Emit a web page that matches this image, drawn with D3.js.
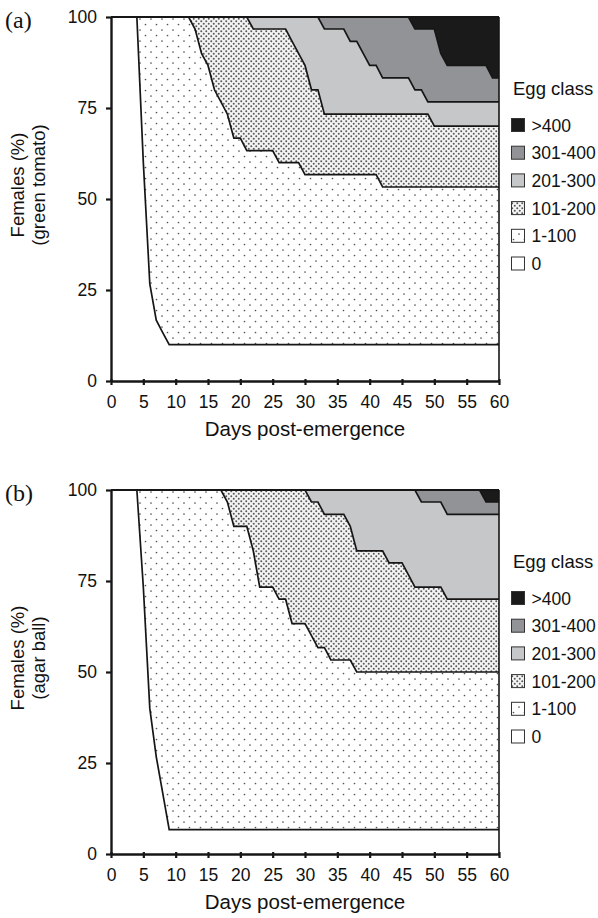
<!DOCTYPE html>
<html>
<head>
<meta charset="utf-8">
<script src="https://cdn.jsdelivr.net/npm/d3@7"></script>
<style>
  html, body { margin: 0; padding: 0; background: #fff; }
  svg { display: block; }
</style>
</head>
<body>
<div id="chart"></div>
<script>
/* ================================================
   Egg class of females over days post-emergence
   cumulative % of females per class boundary
   ================================================ */

var days = [
   0,  1,  2,  3,  4,  5,  6,  7,  8,  9,
  10, 11, 12, 13, 14, 15, 16, 17, 18, 19,
  20, 21, 22, 23, 24, 25, 26, 27, 28, 29,
  30, 31, 32, 33, 34, 35, 36, 37, 38, 39,
  40, 41, 42, 43, 44, 45, 46, 47, 48, 49,
  50, 51, 52, 53, 54, 55, 56, 57, 58, 59,
  60
];

// (a) green tomato — % of females with at most N eggs
var zeroA = [
  100, 100, 100, 100, 100, 60, 26.7, 16.7, 13.3, 10,
  10, 10, 10, 10, 10, 10, 10, 10, 10, 10,
  10, 10, 10, 10, 10, 10, 10, 10, 10, 10,
  10, 10, 10, 10, 10, 10, 10, 10, 10, 10,
  10, 10, 10, 10, 10, 10, 10, 10, 10, 10,
  10, 10, 10, 10, 10, 10, 10, 10, 10, 10,
  10
];
var upto100A = [
  100, 100, 100, 100, 100, 100, 100, 100, 100, 100,
  100, 100, 100, 96.7, 90, 86.7, 80, 76.7, 73.3, 66.7,
  66.7, 63.3, 63.3, 63.3, 63.3, 63.3, 60, 60, 60, 60,
  56.7, 56.7, 56.7, 56.7, 56.7, 56.7, 56.7, 56.7, 56.7, 56.7,
  56.7, 56.7, 53.3, 53.3, 53.3, 53.3, 53.3, 53.3, 53.3, 53.3,
  53.3, 53.3, 53.3, 53.3, 53.3, 53.3, 53.3, 53.3, 53.3, 53.3,
  53.3
];
var upto200A = [
  100, 100, 100, 100, 100, 100, 100, 100, 100, 100,
  100, 100, 100, 100, 100, 100, 100, 100, 100, 100,
  100, 100, 96.7, 96.7, 96.7, 96.7, 96.7, 96.7, 93.3, 90,
  86.7, 80, 80, 73.3, 73.3, 73.3, 73.3, 73.3, 73.3, 73.3,
  73.3, 73.3, 73.3, 73.3, 73.3, 73.3, 73.3, 73.3, 73.3, 73.3,
  70, 70, 70, 70, 70, 70, 70, 70, 70, 70,
  70
];
var upto300A = [
  100, 100, 100, 100, 100, 100, 100, 100, 100, 100,
  100, 100, 100, 100, 100, 100, 100, 100, 100, 100,
  100, 100, 100, 100, 100, 100, 100, 100, 100, 100,
  100, 100, 100, 96.7, 96.7, 96.7, 96.7, 93.3, 93.3, 90,
  86.7, 86.7, 83.3, 83.3, 83.3, 83.3, 83.3, 80, 80, 76.7,
  76.7, 76.7, 76.7, 76.7, 76.7, 76.7, 76.7, 76.7, 76.7, 76.7,
  76.7
];
var upto400A = [
  100, 100, 100, 100, 100, 100, 100, 100, 100, 100,
  100, 100, 100, 100, 100, 100, 100, 100, 100, 100,
  100, 100, 100, 100, 100, 100, 100, 100, 100, 100,
  100, 100, 100, 100, 100, 100, 100, 100, 100, 100,
  100, 100, 100, 100, 100, 100, 100, 96.7, 96.7, 96.7,
  96.7, 90, 86.7, 86.7, 86.7, 86.7, 86.7, 86.7, 86.7, 83.3,
  83.3
];

// (b) agar ball
var zeroB = [
  100, 100, 100, 100, 100, 73.3, 40, 26.7, 16.7, 6.7,
  6.7, 6.7, 6.7, 6.7, 6.7, 6.7, 6.7, 6.7, 6.7, 6.7,
  6.7, 6.7, 6.7, 6.7, 6.7, 6.7, 6.7, 6.7, 6.7, 6.7,
  6.7, 6.7, 6.7, 6.7, 6.7, 6.7, 6.7, 6.7, 6.7, 6.7,
  6.7, 6.7, 6.7, 6.7, 6.7, 6.7, 6.7, 6.7, 6.7, 6.7,
  6.7, 6.7, 6.7, 6.7, 6.7, 6.7, 6.7, 6.7, 6.7, 6.7,
  6.7
];
var upto100B = [
  100, 100, 100, 100, 100, 100, 100, 100, 100, 100,
  100, 100, 100, 100, 100, 100, 100, 100, 96.7, 90,
  90, 90, 83.3, 73.3, 73.3, 73.3, 70, 70, 63.3, 63.3,
  63.3, 60, 56.7, 56.7, 53.3, 53.3, 53.3, 53.3, 50, 50,
  50, 50, 50, 50, 50, 50, 50, 50, 50, 50,
  50, 50, 50, 50, 50, 50, 50, 50, 50, 50,
  50
];
var upto200B = [
  100, 100, 100, 100, 100, 100, 100, 100, 100, 100,
  100, 100, 100, 100, 100, 100, 100, 100, 100, 100,
  100, 100, 100, 100, 100, 100, 100, 100, 100, 100,
  100, 96.7, 96.7, 93.3, 93.3, 93.3, 93.3, 90, 83.3, 83.3,
  83.3, 83.3, 83.3, 80, 80, 80, 76.7, 73.3, 73.3, 73.3,
  73.3, 73.3, 70, 70, 70, 70, 70, 70, 70, 70,
  70
];
var upto300B = [
  100, 100, 100, 100, 100, 100, 100, 100, 100, 100,
  100, 100, 100, 100, 100, 100, 100, 100, 100, 100,
  100, 100, 100, 100, 100, 100, 100, 100, 100, 100,
  100, 100, 100, 100, 100, 100, 100, 100, 100, 100,
  100, 100, 100, 100, 100, 100, 100, 100, 96.7, 96.7,
  96.7, 96.7, 93.3, 93.3, 93.3, 93.3, 93.3, 93.3, 93.3, 93.3,
  93.3
];
var upto400B = [
  100, 100, 100, 100, 100, 100, 100, 100, 100, 100,
  100, 100, 100, 100, 100, 100, 100, 100, 100, 100,
  100, 100, 100, 100, 100, 100, 100, 100, 100, 100,
  100, 100, 100, 100, 100, 100, 100, 100, 100, 100,
  100, 100, 100, 100, 100, 100, 100, 100, 100, 100,
  100, 100, 100, 100, 100, 100, 100, 100, 96.7, 96.7,
  96.7
];

var classLabels = ['0', '1-100', '101-200', '201-300', '301-400', '>400'];
var xTicks = [0, 5, 10, 15, 20, 25, 30, 35, 40, 45, 50, 55, 60];
var yTicks = [0, 25, 50, 75, 100];

var W = 598, H = 918;
var plotL = 111, plotR = 499, plotH = 364;
var SANS = "'Liberation Sans', Arial, sans-serif";
var INK = '#161616';

var classFill = ['#ffffff', 'url(#dotsSparse)', 'url(#dotsDense)', '#c6c7c9', '#929396', '#1a1a1a'];

var panels = [
  { tag: '(a)', top: 17,  ylab: ['Females (%)', '(green tomato)'],
    series: [zeroA, upto100A, upto200A, upto300A, upto400A] },
  { tag: '(b)', top: 490, ylab: ['Females (%)', '(agar ball)'],
    series: [zeroB, upto100B, upto200B, upto300B, upto400B] }
];

var svg = d3.select('#chart').append('svg')
  .attr('width', W).attr('height', H)
  .attr('viewBox', '0 0 ' + W + ' ' + H);

// fill patterns
var defs = svg.append('defs');
var sparse = defs.append('pattern')
  .attr('id', 'dotsSparse').attr('patternUnits', 'userSpaceOnUse')
  .attr('width', 11).attr('height', 11);
sparse.append('rect').attr('width', 11).attr('height', 11).attr('fill', '#fff');
[[2.5, 2.5], [8, 8]].forEach(function(p) {
  sparse.append('circle').attr('cx', p[0]).attr('cy', p[1]).attr('r', 0.85).attr('fill', '#555');
});
var dense = defs.append('pattern')
  .attr('id', 'dotsDense').attr('patternUnits', 'userSpaceOnUse')
  .attr('width', 5).attr('height', 5);
dense.append('rect').attr('width', 5).attr('height', 5).attr('fill', '#f4f4f4');
[[1.25, 1.25], [3.75, 3.75]].forEach(function(p) {
  dense.append('circle').attr('cx', p[0]).attr('cy', p[1]).attr('r', 1).attr('fill', '#5a5a5a');
});

var x = d3.scaleLinear().domain([0, 60]).range([plotL, plotR]);

panels.forEach(function(pn) {
  var y = d3.scaleLinear().domain([0, 100]).range([pn.top + plotH, pn.top]);
  var g = svg.append('g');
  var idx = days.map(function(d, i) { return i; });

  // stacked class bands
  classLabels.forEach(function(lab, k) {
    var area = d3.area()
      .x(function(i) { return x(days[i]); })
      .y0(function(i) { return k === 0 ? y(0) : y(pn.series[k - 1][i]); })
      .y1(function(i) { return k === 5 ? y(100) : y(pn.series[k][i]); });
    g.append('path')
      .attr('d', area(idx))
      .attr('fill', classFill[k])
      .attr('stroke', 'none');
  });

  // boundary lines
  pn.series.forEach(function(s) {
    var line = d3.line()
      .x(function(i) { return x(days[i]); })
      .y(function(i) { return y(s[i]); });
    g.append('path')
      .attr('d', line(idx))
      .attr('fill', 'none')
      .attr('stroke', INK)
      .attr('stroke-width', 1.7);
  });

  // frame top + right
  g.append('line')
    .attr('x1', x(0)).attr('x2', x(60))
    .attr('y1', y(100)).attr('y2', y(100))
    .attr('stroke', INK).attr('stroke-width', 2.2);
  g.append('line')
    .attr('x1', x(60)).attr('x2', x(60))
    .attr('y1', y(100)).attr('y2', y(0))
    .attr('stroke', INK).attr('stroke-width', 1.6);

  // axes
  var xAxis = g.append('g')
    .attr('transform', 'translate(0,' + y(0) + ')')
    .call(d3.axisBottom(x).tickValues(xTicks).tickSize(4).tickSizeOuter(0).tickPadding(11));
  xAxis.selectAll('.tick line').attr('y1', -2);
  var yAxis = g.append('g')
    .attr('transform', 'translate(' + x(0) + ',0)')
    .call(d3.axisLeft(y).tickValues(yTicks).tickSize(5).tickSizeOuter(0).tickPadding(9));
  [xAxis, yAxis].forEach(function(ax) {
    ax.select('.domain').attr('stroke', INK).attr('stroke-width', 2.4);
    ax.selectAll('.tick line').attr('stroke', INK).attr('stroke-width', 2.2);
    ax.selectAll('.tick text')
      .attr('fill', '#111')
      .attr('font-family', SANS)
      .attr('font-size', 17.5);
  });

  // axis titles
  g.append('text')
    .attr('x', (plotL + plotR) / 2).attr('y', pn.top + 419)
    .attr('text-anchor', 'middle')
    .attr('font-family', SANS).attr('font-size', 20.5).attr('fill', '#111')
    .text('Days post-emergence');
  pn.ylab.forEach(function(t, j) {
    g.append('text')
      .attr('transform', 'translate(' + (24 + j * 21) + ',' + (pn.top + 168) + ') rotate(-90)')
      .attr('text-anchor', 'middle')
      .attr('font-family', SANS).attr('font-size', 18.5).attr('fill', '#111')
      .text(t);
  });

  // panel tag
  g.append('text')
    .attr('x', 5).attr('y', pn.top + 11)
    .attr('font-family', "'Liberation Serif', 'Times New Roman', serif")
    .attr('font-size', 24).attr('fill', '#111')
    .text(pn.tag);

  // legend (kept narrow enough to stay inside the 598px width)
  var lg = g.append('g').attr('transform', 'translate(511,' + pn.top + ')');
  lg.append('text')
    .attr('x', 2).attr('y', 78)
    .attr('font-family', SANS).attr('font-size', 18.5).attr('fill', '#111')
    .text('Egg class');
  classLabels.slice().reverse().forEach(function(lab, r) {
    var k = classLabels.length - 1 - r;
    var cy = 108 + r * 27.7;
    lg.append('rect')
      .attr('x', 0.5).attr('y', cy - 6.5)
      .attr('width', 13).attr('height', 13)
      .attr('fill', classFill[k])
      .attr('stroke', '#333').attr('stroke-width', 1);
    lg.append('text')
      .attr('x', 20.5).attr('y', cy + 6.5)
      .attr('font-family', SANS).attr('font-size', 17.5).attr('fill', '#111')
      .text(lab);
  });
});
</script>
</body>
</html>
